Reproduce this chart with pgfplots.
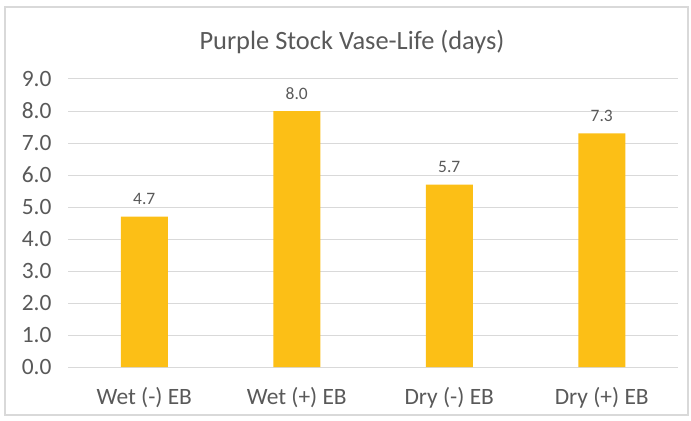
\documentclass[border=0pt]{standalone}
\usepackage{pgfplots}
\pgfplotsset{compat=1.18}
\usepackage{fontspec}
\setmainfont{Carlito}
\definecolor{bargold}{HTML}{FCBF16}
\definecolor{txtgray}{HTML}{595959}
\definecolor{gridgray}{HTML}{D9D9D9}
\begin{document}
\begin{tikzpicture}[x=1bp,y=1bp]
\useasboundingbox (0,0) rectangle (691,420);
\draw[gridgray, line width=1.2bp] (5,5) rectangle (688,413);
\node[txtgray, font=\fontsize{26.5}{31}\selectfont] at (352,378) {Purple Stock Vase-Life (days)};
\begin{axis}[
  at={(68bp,53bp)}, anchor=south west,
  scale only axis, width=610bp, height=288bp,
  xmin=-0.5, xmax=3.5, ymin=0, ymax=9,
  xtick={0,1,2,3},
  xticklabels={Wet (-) EB, Wet (+) EB, Dry (-) EB, Dry (+) EB},
  ytick={0,1,...,9},
  /pgf/number format/assume math mode=true,
  ticklabel style={txtgray, font=\fontsize{23.5}{28}\selectfont},
  xticklabel style={yshift=-17bp},
  yticklabel style={xshift=-13bp, /pgf/number format/fixed, /pgf/number format/fixed zerofill, /pgf/number format/precision=1},
  axis line style={draw=none},
  axis x line*=bottom,
  x axis line style={draw=gridgray, line width=1bp},
  major tick length=0pt,
  ymajorgrids, grid style={gridgray, line width=1bp},
  ybar, bar width=47bp,
  nodes near coords,
  nodes near coords style={txtgray, font=\fontsize{17.5}{21}\selectfont, yshift=8bp,
    /pgf/number format/fixed, /pgf/number format/fixed zerofill, /pgf/number format/precision=1, /pgf/number format/assume math mode=true},
  clip=false,
]
\addplot[fill=bargold, draw=none] coordinates {(0,4.7) (1,8.0) (2,5.7) (3,7.3)};
\end{axis}
\end{tikzpicture}
\end{document}
